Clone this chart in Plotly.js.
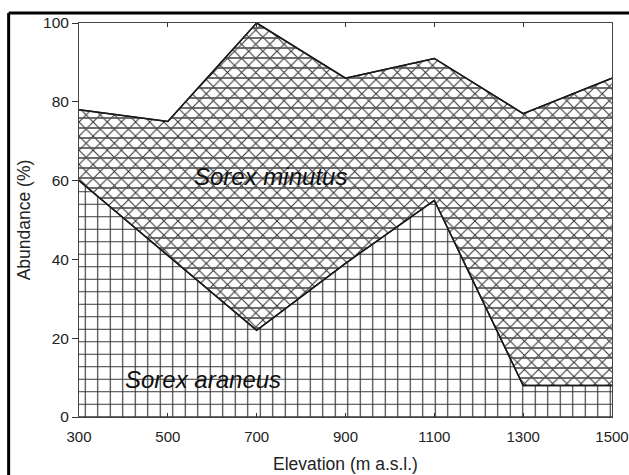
<!DOCTYPE html>
<html>
<head>
<meta charset="utf-8">
<script src="https://cdn.plot.ly/plotly-3.0.1.min.js"></script>
<style>
html,body{margin:0;padding:0;background:#fff;}
#chart{width:629px;height:475px;}
</style>
</head>
<body>
<div id="chart"></div>
<script>
// Data
var elevation = [300, 500, 700, 900, 1100, 1300, 1500];
var araneus   = [60, 41, 22, 39, 55, 8, 8];          // Sorex araneus (%)
var minutus   = [18, 34, 78, 47, 36, 69, 78];        // Sorex minutus (%), stacked on top
var xTicks    = [300, 500, 700, 900, 1100, 1300, 1500];
var yTicks    = [0, 20, 40, 60, 80, 100];

var total = araneus.map(function(v, i){ return v + minutus[i]; });

var lineCol = '#1a1a1a';
var patCol = '#333';

var traces = [
  {
    x: elevation, y: araneus, mode: 'lines', fill: 'tozeroy',
    line: {color: lineCol, width: 1.5},
    fillcolor: 'white',
    fillpattern: {shape: '+', size: 12.5, solidity: 0.17, fgcolor: patCol, bgcolor: 'white'},
    hoverinfo: 'skip', showlegend: false
  },
  {
    x: elevation, y: total, mode: 'lines', fill: 'tonexty',
    line: {color: lineCol, width: 1.5},
    fillcolor: 'white',
    fillpattern: {shape: 'x', size: 10, solidity: 0.2, fgcolor: patCol, bgcolor: 'white'},
    hoverinfo: 'skip', showlegend: false
  },
  {
    x: elevation, y: araneus, mode: 'lines',
    line: {color: lineCol, width: 1.5},
    hoverinfo: 'skip', showlegend: false
  },
  {
    x: elevation, y: total, mode: 'lines', fill: 'tonexty',
    line: {color: lineCol, width: 1.5},
    fillcolor: 'rgba(0,0,0,0)',
    fillpattern: {shape: '-', size: 10, solidity: 0.17, fgcolor: '#555', bgcolor: 'rgba(0,0,0,0)'},
    hoverinfo: 'skip', showlegend: false
  }
];

var fontFam = '"Liberation Sans", Arial, sans-serif';

var layout = {
  width: 629, height: 475,
  margin: {l: 79, r: 17, t: 23, b: 58},
  paper_bgcolor: 'white', plot_bgcolor: 'white',
  font: {family: fontFam, color: '#222', size: 15},
  showlegend: false,
  xaxis: {
    range: [300, 1500], tickvals: xTicks, ticktext: xTicks.map(String),
    ticks: 'inside', ticklen: 4, tickcolor: '#333', tickwidth: 1,
    mirror: 'ticks', showline: true, linecolor: '#444', linewidth: 1,
    showgrid: false, zeroline: false, ticklabelstandoff: 6,
    tickfont: {size: 15},
    title: {text: 'Elevation (m a.s.l.)', font: {size: 17.5}, standoff: 13}
  },
  yaxis: {
    range: [0, 100], tickvals: yTicks, ticktext: yTicks.map(String),
    ticks: 'outside', ticklen: 6, tickcolor: '#333', tickwidth: 1,
    mirror: true, showline: true, linecolor: '#444', linewidth: 1,
    showgrid: false, zeroline: false,
    tickfont: {size: 15.5},
    title: {text: 'Abundance (%)', font: {size: 17.5}, standoff: 7}
  },
  annotations: [
    {x: 731, y: 61, xref: 'x', yref: 'y', text: 'Sorex minutus', showarrow: false,
     font: {size: 24, style: 'italic', color: '#111'}},
    {x: 580, y: 9.5, xref: 'x', yref: 'y', text: 'Sorex araneus', showarrow: false,
     font: {size: 24, style: 'italic', color: '#111'}}
  ],
  shapes: [
    {type: 'line', xref: 'paper', yref: 'paper', x0: -0.132, x1: 1.05, y0: 1.0254, y1: 1.0254,
     line: {color: '#000', width: 3}},
    {type: 'line', xref: 'paper', yref: 'paper', x0: -0.132, x1: -0.132, y0: 1.0254, y1: -0.16,
     line: {color: '#000', width: 3}}
  ]
};

Plotly.newPlot('chart', traces, layout, {displayModeBar: false, staticPlot: true});
</script>
</body>
</html>
